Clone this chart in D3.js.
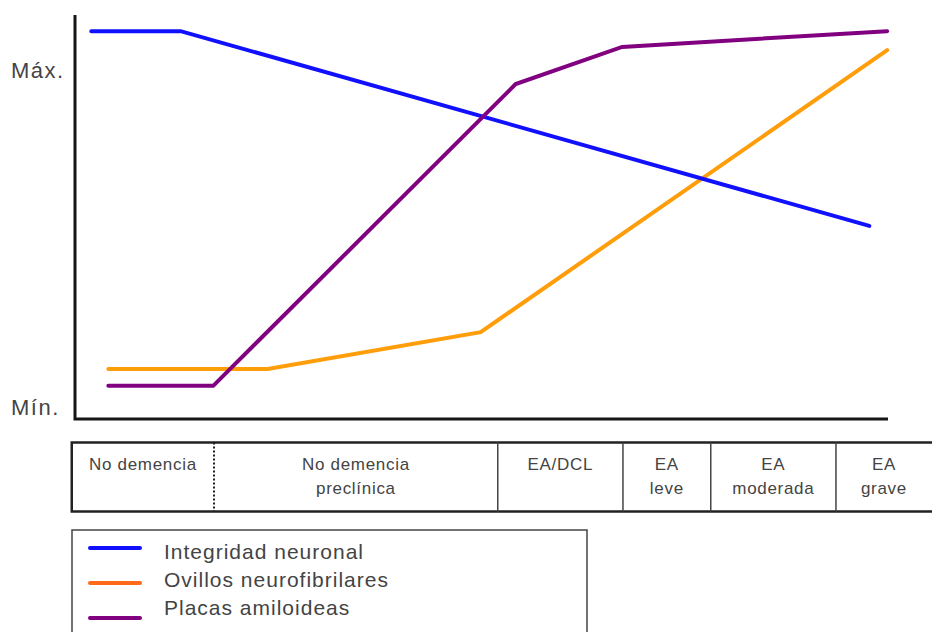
<!DOCTYPE html>
<html>
<head>
<meta charset="utf-8">
<script src="https://cdn.jsdelivr.net/npm/d3@7"></script>
<style>
  html, body { margin: 0; padding: 0; background: #fff; }
  svg { display: block; }
  text { font-family: "Liberation Sans", Arial, Helvetica, sans-serif; fill: #444; }
</style>
</head>
<body>
<svg id="chart" width="932" height="632"></svg>
<script>
// ---- data ----
const seriesNames = ["Integridad neuronal", "Ovillos neurofibrilares", "Placas amiloideas"];
const lineColors = ["#1010ff", "#ff9d0a", "#800080"];
const legendColors = ["#1010ff", "#ff6a1a", "#800080"];
// x: disease progression (0–100), y: level (0 = Mín., 100 = Máx.)
const integridadX = [2.0, 13.0, 97.7];
const integridadY = [96.0, 96.0, 47.8];
const ovillosX = [4.1, 23.7, 49.9, 99.9];
const ovillosY = [12.4, 12.4, 21.5, 91.3];
const placasX = [4.1, 17.0, 54.2, 67.3, 99.9];
const placasY = [8.2, 8.2, 82.9, 92.1, 96.0];
const yTickLabels = ["Mín.", "Máx."];
const yTickValues = [2.5, 85.8];
const stageBounds = [-0.4, 17.1, 52.0, 67.4, 78.2, 93.6, 105.4];
const stageLabels = [["No demencia"], ["No demencia", "preclínica"], ["EA/DCL"], ["EA", "leve"], ["EA", "moderada"], ["EA", "grave"]];

// ---- layout ----
const svg = d3.select("#chart");
const x = d3.scaleLinear().domain([0, 100]).range([75, 888]);
const y = d3.scaleLinear().domain([0, 100]).range([419, 15]);

// series lines
const series = [
  { xs: integridadX, ys: integridadY },
  { xs: ovillosX, ys: ovillosY },
  { xs: placasX, ys: placasY }
];
const line = d3.line().x(d => x(d[0])).y(d => y(d[1]));
const drawOrder = [1, 0, 2];
drawOrder.forEach(i => {
  const s = series[i];
  const pts = s.xs.map((v, k) => [v, s.ys[k]]);
  svg.append("path")
    .attr("d", line(pts))
    .attr("fill", "none")
    .attr("stroke", lineColors[i])
    .attr("stroke-width", 4)
    .attr("stroke-linejoin", "miter")
    .attr("stroke-linecap", "round");
});

// axes (no ticks)
svg.append("path")
  .attr("d", `M${x(0)},${y(100)} L${x(0)},${y(0)} L${x(100)},${y(0)}`)
  .attr("fill", "none")
  .attr("stroke", "#151515")
  .attr("stroke-width", 3);

// y labels
svg.selectAll("text.ylab").data(yTickLabels).enter().append("text")
  .attr("class", "ylab")
  .attr("x", 11)
  .attr("y", (d, i) => y(yTickValues[i]))
  .attr("dominant-baseline", "middle")
  .style("font-size", "22px")
  .style("letter-spacing", "1.5px")
  .text(d => d);

// ---- stage table ----
const tTop = 442.5, tBot = 511.5;
const tbl = svg.append("g");
tbl.append("path")
  .attr("d", `M${x(stageBounds[stageBounds.length - 1]) + 2},${tTop} L${x(stageBounds[0])},${tTop} L${x(stageBounds[0])},${tBot} L${x(stageBounds[stageBounds.length - 1]) + 2},${tBot}`)
  .attr("fill", "none").attr("stroke", "#222").attr("stroke-width", 2.5);
stageBounds.slice(1, -1).forEach((b, i) => {
  tbl.append("line")
    .attr("x1", x(b)).attr("x2", x(b))
    .attr("y1", tTop).attr("y2", tBot)
    .attr("stroke", i === 0 ? "#222" : "#444")
    .attr("stroke-width", i === 0 ? 2 : 1.5)
    .attr("stroke-dasharray", i === 0 ? "2,2" : null);
});
stageLabels.forEach((lines, i) => {
  const cx = (x(stageBounds[i]) + x(stageBounds[i + 1])) / 2;
  lines.forEach((t, j) => {
    tbl.append("text")
      .attr("x", cx)
      .attr("y", 470 + j * 24)
      .attr("text-anchor", "middle")
      .style("font-size", "17px")
      .style("letter-spacing", "0.7px")
      .text(t);
  });
});

// ---- legend ----
const lg = svg.append("g");
lg.append("rect")
  .attr("x", 72).attr("y", 530).attr("width", 515).attr("height", 120)
  .attr("fill", "none").attr("stroke", "#444").attr("stroke-width", 1.5);
const legLineY = [548, 583, 618];
const legTextY = [553, 581, 609];
seriesNames.forEach((n, i) => {
  lg.append("line")
    .attr("x1", 90).attr("x2", 140)
    .attr("y1", legLineY[i]).attr("y2", legLineY[i])
    .attr("stroke", legendColors[i]).attr("stroke-width", 4)
    .attr("stroke-linecap", "round");
  lg.append("text")
    .attr("x", 164).attr("y", legTextY[i])
    .attr("dominant-baseline", "middle")
    .style("font-size", "21px")
    .style("letter-spacing", "1px")
    .text(n);
});
</script>
</body>
</html>
